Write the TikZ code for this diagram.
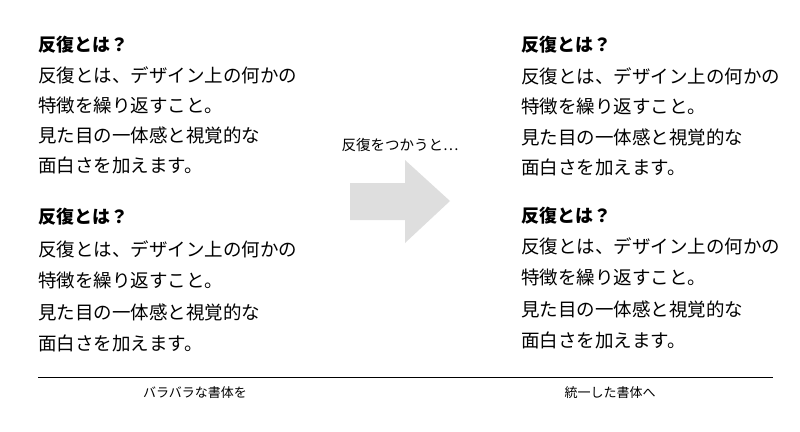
\documentclass[tikz,border=0pt]{standalone}
\usepackage{fontspec}
\setmainfont{Noto Sans CJK JP}
\begin{document}
\begin{tikzpicture}[x=1pt,y=-1pt,
  body/.style={anchor=west,inner sep=0pt,font=\fontsize{18.5}{19}\selectfont},
  ttl/.style={anchor=west,inner sep=0pt,font=\fontsize{18}{19}\selectfont\bfseries},
  captxt/.style={inner sep=0pt,font=\fontsize{13}{14}\selectfont}]
\useasboundingbox (0,0) rectangle (800,431);
\node[ttl] (t1) at (38,45) {反復とは？};
\node[body] (a1) at (38,75) {反復とは、デザイン上の何かの};
\node[body] (a2) at (38,105) {特徴を繰り返すこと。};
\node[body] (a3) at (38,135) {見た目の一体感と視覚的な};
\node[body] (a4) at (38,165) {面白さを加えます。};
\node[ttl] (t2) at (38,217) {反復とは？};
\node[body] (b1) at (38,249) {反復とは、デザイン上の何かの};
\node[body] (b2) at (38,280) {特徴を繰り返すこと。};
\node[body] (b3) at (38,312) {見た目の一体感と視覚的な};
\node[body] (b4) at (38,343) {面白さを加えます。};
\node[ttl] (t3) at (521,45) {反復とは？};
\node[body] (c1) at (521,76) {反復とは、デザイン上の何かの};
\node[body] (c2) at (521,106) {特徴を繰り返すこと。};
\node[body] (c3) at (521,137) {見た目の一体感と視覚的な};
\node[body] (c4) at (521,167) {面白さを加えます。};
\node[ttl] (t4) at (521,216) {反復とは？};
\node[body] (d1) at (521,246) {反復とは、デザイン上の何かの};
\node[body] (d2) at (521,277) {特徴を繰り返すこと。};
\node[body] (d3) at (521,309) {見た目の一体感と視覚的な};
\node[body] (d4) at (521,340) {面白さを加えます。};
\node[captxt,font=\fontsize{14.5}{15}\selectfont] (lab) at (400,145) {反復をつかうと…};
\fill[black!13] (350,183) -- (405,183) -- (405,160) -- (450,201) -- (405,243) -- (405,220) -- (350,220) -- cycle;
\coordinate (l1) at (38,377); \coordinate (l2) at (773,377);
\draw[line width=0.8pt] (l1) -- (l2);
\node[captxt] (k1) at (195,393) {バラバラな書体を};
\node[captxt] (k2) at (610,393) {統一した書体へ};
\end{tikzpicture}
\end{document}
